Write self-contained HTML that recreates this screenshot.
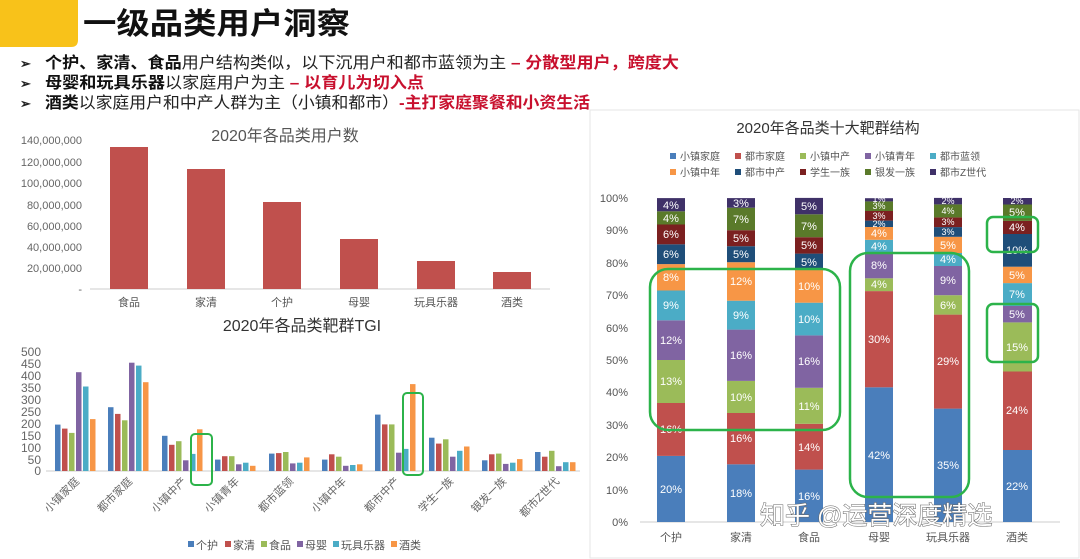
<!DOCTYPE html>
<html><head><meta charset="utf-8"><style>
html,body{margin:0;padding:0;background:#fff;}
svg{display:block;font-family:"Liberation Sans","Noto Sans CJK SC",sans-serif;}
</style></head><body>
<svg width="1080" height="559" viewBox="0 0 1080 559" xmlns="http://www.w3.org/2000/svg">
<rect x="0" y="0" width="1080" height="559" fill="#fff"/>
<!-- header -->
<path d="M0 0 H78 V40 Q78 47 71 47 H0 Z" fill="#f8c21a"/>
<text x="83" y="34" font-size="30" font-weight="bold" fill="#111" textLength="267" lengthAdjust="spacingAndGlyphs">一级品类用户洞察</text>
<g font-size="16" font-weight="bold">
<text x="20" y="68" font-size="13" fill="#222">➢</text>
<text x="45" y="68" textLength="634" lengthAdjust="spacingAndGlyphs"><tspan fill="#111">个护、家清、食品</tspan><tspan fill="#222" font-weight="normal">用户结构类似，以下沉用户和都市蓝领为主 </tspan><tspan fill="#c8102e">– 分散型用户，跨度大</tspan></text>
<text x="20" y="88" font-size="13" fill="#222">➢</text>
<text x="45" y="88" textLength="379" lengthAdjust="spacingAndGlyphs"><tspan fill="#111">母婴和玩具乐器</tspan><tspan fill="#222" font-weight="normal">以家庭用户为主 </tspan><tspan fill="#c8102e">– 以育儿为切入点</tspan></text>
<text x="20" y="108" font-size="13" fill="#222">➢</text>
<text x="45" y="108" textLength="545" lengthAdjust="spacingAndGlyphs"><tspan fill="#111">酒类</tspan><tspan fill="#222" font-weight="normal">以家庭用户和中产人群为主（小镇和都市）</tspan><tspan fill="#c8102e">-主打家庭聚餐和小资生活</tspan></text>
</g>

<!-- chart 1 -->
<text x="285" y="141" font-size="16" fill="#555" text-anchor="middle">2020年各品类用户数</text>
<g font-size="11" fill="#666" text-anchor="end">
<text x="82" y="144">140,000,000</text>
<text x="82" y="166">120,000,000</text>
<text x="82" y="187">100,000,000</text>
<text x="82" y="209">80,000,000</text>
<text x="82" y="230">60,000,000</text>
<text x="82" y="251">40,000,000</text>
<text x="82" y="272">20,000,000</text>
<text x="82" y="293">-</text>
</g>
<line x1="90" y1="289" x2="550" y2="289" stroke="#ccc" stroke-width="1"/>
<g fill="#c0504d">
<rect x="110" y="147" width="38" height="142"/>
<rect x="187" y="169" width="38" height="120"/>
<rect x="263" y="202" width="38" height="87"/>
<rect x="340" y="239" width="38" height="50"/>
<rect x="417" y="261" width="38" height="28"/>
<rect x="493" y="272" width="38" height="17"/>
</g>
<g font-size="11" fill="#555" text-anchor="middle">
<text x="129" y="306">食品</text><text x="206" y="306">家清</text><text x="282" y="306">个护</text>
<text x="359" y="306">母婴</text><text x="436" y="306">玩具乐器</text><text x="512" y="306">酒类</text>
</g>

<!-- chart 2 TGI -->
<text x="302" y="331" font-size="16" fill="#333" text-anchor="middle">2020年各品类靶群TGI</text>
<g font-size="12" fill="#666" text-anchor="end">
<text x="41" y="356">500</text><text x="41" y="368">450</text><text x="41" y="380">400</text>
<text x="41" y="392">350</text><text x="41" y="404">300</text><text x="41" y="416">250</text>
<text x="41" y="428">200</text><text x="41" y="440">150</text><text x="41" y="452">100</text>
<text x="41" y="464">50</text><text x="41" y="475">0</text>
</g>
<line x1="46" y1="471" x2="580" y2="471" stroke="#ccc"/>
<defs>
<g id="c0"></g>
</defs>
<g transform="translate(0,471) scale(1,-1)">
<!-- g0 c=76 -->
<rect x="55" width="5.5" height="46.4" fill="#4a7ebb"/><rect x="62" width="5.5" height="42.4" fill="#c0504d"/><rect x="69" width="5.5" height="38.1" fill="#9bbb59"/><rect x="76" width="5.5" height="98.8" fill="#8064a2"/><rect x="83" width="5.5" height="84.5" fill="#4bacc6"/><rect x="90" width="5.5" height="51.9" fill="#f79646"/>
<!-- g1 c=129 -->
<rect x="108" width="5.5" height="63.8" fill="#4a7ebb"/><rect x="115" width="5.5" height="57.1" fill="#c0504d"/><rect x="122" width="5.5" height="50.7" fill="#9bbb59"/><rect x="129" width="5.5" height="108.3" fill="#8064a2"/><rect x="136" width="5.5" height="105.4" fill="#4bacc6"/><rect x="143" width="5.5" height="88.8" fill="#f79646"/>
<!-- g2 c=183 -->
<rect x="162" width="5.5" height="35.2" fill="#4a7ebb"/><rect x="169" width="5.5" height="26.2" fill="#c0504d"/><rect x="176" width="5.5" height="29.8" fill="#9bbb59"/><rect x="183" width="5.5" height="10.7" fill="#8064a2"/><rect x="190" width="5.5" height="17.1" fill="#4bacc6"/><rect x="197" width="5.5" height="41.7" fill="#f79646"/>
<!-- g3 c=236 -->
<rect x="215" width="5.5" height="11.4" fill="#4a7ebb"/><rect x="222" width="5.5" height="14.8" fill="#c0504d"/><rect x="229" width="5.5" height="14.8" fill="#9bbb59"/><rect x="236" width="5.5" height="6.7" fill="#8064a2"/><rect x="243" width="5.5" height="8.3" fill="#4bacc6"/><rect x="250" width="5.5" height="5.2" fill="#f79646"/>
<!-- g4 c=290 -->
<rect x="269" width="5.5" height="17.4" fill="#4a7ebb"/><rect x="276" width="5.5" height="17.9" fill="#c0504d"/><rect x="283" width="5.5" height="19.0" fill="#9bbb59"/><rect x="290" width="5.5" height="7.6" fill="#8064a2"/><rect x="297" width="5.5" height="8.3" fill="#4bacc6"/><rect x="304" width="5.5" height="13.6" fill="#f79646"/>
<!-- g5 c=343 -->
<rect x="322" width="5.5" height="11.4" fill="#4a7ebb"/><rect x="329" width="5.5" height="16.7" fill="#c0504d"/><rect x="336" width="5.5" height="14.3" fill="#9bbb59"/><rect x="343" width="5.5" height="5.2" fill="#8064a2"/><rect x="350" width="5.5" height="6.0" fill="#4bacc6"/><rect x="357" width="5.5" height="6.7" fill="#f79646"/>
<!-- g6 c=396 -->
<rect x="375" width="5.5" height="56.4" fill="#4a7ebb"/><rect x="382" width="5.5" height="46.6" fill="#c0504d"/><rect x="389" width="5.5" height="46.6" fill="#9bbb59"/><rect x="396" width="5.5" height="18.3" fill="#8064a2"/><rect x="403" width="5.5" height="22.1" fill="#4bacc6"/><rect x="410" width="5.5" height="86.9" fill="#f79646"/>
<!-- g7 c=450 -->
<rect x="429" width="5.5" height="33.3" fill="#4a7ebb"/><rect x="436" width="5.5" height="27.4" fill="#c0504d"/><rect x="443" width="5.5" height="31.7" fill="#9bbb59"/><rect x="450" width="5.5" height="14.3" fill="#8064a2"/><rect x="457" width="5.5" height="20.2" fill="#4bacc6"/><rect x="464" width="5.5" height="24.5" fill="#f79646"/>
<!-- g8 c=503 -->
<rect x="482" width="5.5" height="10.7" fill="#4a7ebb"/><rect x="489" width="5.5" height="16.7" fill="#c0504d"/><rect x="496" width="5.5" height="17.4" fill="#9bbb59"/><rect x="503" width="5.5" height="7.1" fill="#8064a2"/><rect x="510" width="5.5" height="8.3" fill="#4bacc6"/><rect x="517" width="5.5" height="11.9" fill="#f79646"/>
<!-- g9 c=556 -->
<rect x="535" width="5.5" height="19.0" fill="#4a7ebb"/><rect x="542" width="5.5" height="14.3" fill="#c0504d"/><rect x="549" width="5.5" height="20.2" fill="#9bbb59"/><rect x="556" width="5.5" height="4.8" fill="#8064a2"/><rect x="563" width="5.5" height="8.8" fill="#4bacc6"/><rect x="570" width="5.5" height="8.8" fill="#f79646"/>
</g>
<g font-size="11" fill="#666" text-anchor="end">
<text transform="translate(80,482) rotate(-45)">小镇家庭</text>
<text transform="translate(133,482) rotate(-45)">都市家庭</text>
<text transform="translate(187,482) rotate(-45)">小镇中产</text>
<text transform="translate(240,482) rotate(-45)">小镇青年</text>
<text transform="translate(294,482) rotate(-45)">都市蓝领</text>
<text transform="translate(347,482) rotate(-45)">小镇中年</text>
<text transform="translate(400,482) rotate(-45)">都市中产</text>
<text transform="translate(454,482) rotate(-45)">学生一族</text>
<text transform="translate(507,482) rotate(-45)">银发一族</text>
<text transform="translate(560,482) rotate(-45)">都市Z世代</text>
</g>
<g fill="none" stroke="#2cb34a" stroke-width="2">
<rect x="191" y="434" width="21" height="51" rx="4"/>
<rect x="403" y="393" width="20" height="82" rx="4"/>
</g>
<g font-size="11" fill="#555">
<rect x="188" y="541" width="6" height="6" fill="#4a7ebb"/><text x="196" y="549">个护</text>
<rect x="225" y="541" width="6" height="6" fill="#c0504d"/><text x="233" y="549">家清</text>
<rect x="261" y="541" width="6" height="6" fill="#9bbb59"/><text x="269" y="549">食品</text>
<rect x="297" y="541" width="6" height="6" fill="#8064a2"/><text x="305" y="549">母婴</text>
<rect x="333" y="541" width="6" height="6" fill="#4bacc6"/><text x="341" y="549">玩具乐器</text>
<rect x="391" y="541" width="6" height="6" fill="#f79646"/><text x="399" y="549">酒类</text>
</g>

<!-- chart 3 stacked -->
<rect x="590" y="110" width="489" height="448" fill="none" stroke="#e6e6e6"/>
<text x="828" y="133" font-size="15" fill="#333" text-anchor="middle">2020年各品类十大靶群结构</text>
<g font-size="10" fill="#555">
<rect x="670" y="153" width="6" height="6" fill="#4a7ebb"/><text x="680" y="160">小镇家庭</text>
<rect x="735" y="153" width="6" height="6" fill="#c0504d"/><text x="745" y="160">都市家庭</text>
<rect x="800" y="153" width="6" height="6" fill="#9bbb59"/><text x="810" y="160">小镇中产</text>
<rect x="865" y="153" width="6" height="6" fill="#8064a2"/><text x="875" y="160">小镇青年</text>
<rect x="930" y="153" width="6" height="6" fill="#4bacc6"/><text x="940" y="160">都市蓝领</text>
<rect x="670" y="169" width="6" height="6" fill="#f79646"/><text x="680" y="176">小镇中年</text>
<rect x="735" y="169" width="6" height="6" fill="#1f4e79"/><text x="745" y="176">都市中产</text>
<rect x="800" y="169" width="6" height="6" fill="#7b2020"/><text x="810" y="176">学生一族</text>
<rect x="865" y="169" width="6" height="6" fill="#5a7a2a"/><text x="875" y="176">银发一族</text>
<rect x="930" y="169" width="6" height="6" fill="#3f3168"/><text x="940" y="176">都市Z世代</text>
</g>
<g font-size="11" fill="#555" text-anchor="end">
<text x="628" y="202">100%</text><text x="628" y="234">90%</text><text x="628" y="267">80%</text>
<text x="628" y="299">70%</text><text x="628" y="332">60%</text><text x="628" y="364">50%</text>
<text x="628" y="396">40%</text><text x="628" y="429">30%</text><text x="628" y="461">20%</text>
<text x="628" y="494">10%</text><text x="628" y="526">0%</text>
</g>
<line x1="640" y1="522" x2="1060" y2="522" stroke="#ccc"/>
<!-- bar 1 x=657 -->
<g>
<rect x="657" y="455.9" width="28" height="66.1" fill="#4a7ebb"/>
<rect x="657" y="403.0" width="28" height="52.9" fill="#c0504d"/>
<rect x="657" y="360.0" width="28" height="43.0" fill="#9bbb59"/>
<rect x="657" y="320.3" width="28" height="39.7" fill="#8064a2"/>
<rect x="657" y="290.5" width="28" height="29.8" fill="#4bacc6"/>
<rect x="657" y="264.1" width="28" height="26.4" fill="#f79646"/>
<rect x="657" y="244.3" width="28" height="19.8" fill="#1f4e79"/>
<rect x="657" y="224.5" width="28" height="19.8" fill="#7b2020"/>
<rect x="657" y="211.3" width="28" height="13.2" fill="#5a7a2a"/>
<rect x="657" y="198.1" width="28" height="13.2" fill="#3f3168"/>
</g>
<g>
<rect x="727" y="464.3" width="28" height="57.7" fill="#4a7ebb"/>
<rect x="727" y="413.0" width="28" height="51.3" fill="#c0504d"/>
<rect x="727" y="380.9" width="28" height="32.1" fill="#9bbb59"/>
<rect x="727" y="329.6" width="28" height="51.3" fill="#8064a2"/>
<rect x="727" y="300.7" width="28" height="28.9" fill="#4bacc6"/>
<rect x="727" y="262.2" width="28" height="38.5" fill="#f79646"/>
<rect x="727" y="246.2" width="28" height="16.0" fill="#1f4e79"/>
<rect x="727" y="230.2" width="28" height="16.0" fill="#7b2020"/>
<rect x="727" y="207.7" width="28" height="22.5" fill="#5a7a2a"/>
<rect x="727" y="198.1" width="28" height="9.6" fill="#3f3168"/>
</g>
<g>
<rect x="795" y="469.6" width="28" height="52.4" fill="#4a7ebb"/>
<rect x="795" y="423.8" width="28" height="45.8" fill="#c0504d"/>
<rect x="795" y="387.8" width="28" height="36.0" fill="#9bbb59"/>
<rect x="795" y="335.4" width="28" height="52.4" fill="#8064a2"/>
<rect x="795" y="302.7" width="28" height="32.7" fill="#4bacc6"/>
<rect x="795" y="270.0" width="28" height="32.7" fill="#f79646"/>
<rect x="795" y="253.6" width="28" height="16.4" fill="#1f4e79"/>
<rect x="795" y="237.2" width="28" height="16.4" fill="#7b2020"/>
<rect x="795" y="214.3" width="28" height="22.9" fill="#5a7a2a"/>
<rect x="795" y="197.9" width="28" height="16.4" fill="#3f3168"/>
</g>
<g>
<rect x="865" y="387.3" width="28" height="134.7" fill="#4a7ebb"/>
<rect x="865" y="291.1" width="28" height="96.2" fill="#c0504d"/>
<rect x="865" y="278.3" width="28" height="12.8" fill="#9bbb59"/>
<rect x="865" y="252.6" width="28" height="25.7" fill="#8064a2"/>
<rect x="865" y="239.8" width="28" height="12.8" fill="#4bacc6"/>
<rect x="865" y="227.0" width="28" height="12.8" fill="#f79646"/>
<rect x="865" y="220.6" width="28" height="6.4" fill="#1f4e79"/>
<rect x="865" y="211.0" width="28" height="9.6" fill="#7b2020"/>
<rect x="865" y="201.4" width="28" height="9.6" fill="#5a7a2a"/>
<rect x="865" y="198.2" width="28" height="3.2" fill="#3f3168"/>
</g>
<g>
<rect x="934" y="408.6" width="28" height="113.4" fill="#4a7ebb"/>
<rect x="934" y="314.6" width="28" height="94.0" fill="#c0504d"/>
<rect x="934" y="295.2" width="28" height="19.4" fill="#9bbb59"/>
<rect x="934" y="266.0" width="28" height="29.2" fill="#8064a2"/>
<rect x="934" y="253.0" width="28" height="13.0" fill="#4bacc6"/>
<rect x="934" y="236.8" width="28" height="16.2" fill="#f79646"/>
<rect x="934" y="227.1" width="28" height="9.7" fill="#1f4e79"/>
<rect x="934" y="217.4" width="28" height="9.7" fill="#7b2020"/>
<rect x="934" y="204.4" width="28" height="13.0" fill="#5a7a2a"/>
<rect x="934" y="197.9" width="28" height="6.5" fill="#3f3168"/>
</g>
<g>
<rect x="1003" y="450.0" width="29" height="72.0" fill="#4a7ebb"/>
<rect x="1003" y="371.5" width="29" height="78.5" fill="#c0504d"/>
<rect x="1003" y="322.4" width="29" height="49.1" fill="#9bbb59"/>
<rect x="1003" y="306.0" width="29" height="16.4" fill="#8064a2"/>
<rect x="1003" y="283.1" width="29" height="22.9" fill="#4bacc6"/>
<rect x="1003" y="266.7" width="29" height="16.4" fill="#f79646"/>
<rect x="1003" y="234.0" width="29" height="32.7" fill="#1f4e79"/>
<rect x="1003" y="220.9" width="29" height="13.1" fill="#7b2020"/>
<rect x="1003" y="204.5" width="29" height="16.4" fill="#5a7a2a"/>
<rect x="1003" y="198.0" width="29" height="6.5" fill="#3f3168"/>
</g>
<g font-size="11" fill="#fff" text-anchor="middle">
<text x="671" y="493">20%</text><text x="671" y="433">16%</text><text x="671" y="385">13%</text><text x="671" y="344">12%</text><text x="671" y="309">9%</text><text x="671" y="281">8%</text><text x="671" y="258">6%</text><text x="671" y="238">6%</text><text x="671" y="222">4%</text><text x="671" y="209">4%</text>
<text x="741" y="497">18%</text><text x="741" y="442">16%</text><text x="741" y="401">10%</text><text x="741" y="359">16%</text><text x="741" y="319">9%</text><text x="741" y="285">12%</text><text x="741" y="258">5%</text><text x="741" y="242">5%</text><text x="741" y="223">7%</text><text x="741" y="207">3%</text>
<text x="809" y="500">16%</text><text x="809" y="451">14%</text><text x="809" y="410">11%</text><text x="809" y="365">16%</text><text x="809" y="323">10%</text><text x="809" y="290">10%</text><text x="809" y="266">5%</text><text x="809" y="249">5%</text><text x="809" y="230">7%</text><text x="809" y="210">5%</text>
<text x="879" y="459">42%</text><text x="879" y="343">30%</text><text x="879" y="288">4%</text><text x="879" y="269">8%</text><text x="879" y="250">4%</text><text x="879" y="237">4%</text>
<text x="948" y="469">35%</text><text x="948" y="365">29%</text><text x="948" y="309">6%</text><text x="948" y="284">9%</text><text x="948" y="263">4%</text><text x="948" y="249">5%</text>
<text x="1017" y="490">22%</text><text x="1017" y="414">24%</text><text x="1017" y="351">15%</text><text x="1017" y="318">5%</text><text x="1017" y="298">7%</text><text x="1017" y="279">5%</text><text x="1017" y="254">10%</text><text x="1017" y="231">4%</text><text x="1017" y="216">5%</text>
</g>
<g font-size="9" fill="#fff" text-anchor="middle">
<text x="879" y="227">2%</text><text x="879" y="219">3%</text><text x="879" y="209">3%</text><text x="879" y="202">1%</text>
<text x="948" y="235">3%</text><text x="948" y="225">3%</text><text x="948" y="214">4%</text><text x="948" y="204">2%</text>
<text x="1017" y="204">2%</text>
</g>
<g font-size="11" fill="#555" text-anchor="middle">
<text x="671" y="541">个护</text><text x="741" y="541">家清</text><text x="809" y="541">食品</text>
<text x="879" y="541">母婴</text><text x="948" y="541">玩具乐器</text><text x="1017" y="541">酒类</text>
</g>
<g fill="none" stroke="#2cb34a" stroke-width="2.5">
<rect x="650" y="269" width="190" height="161" rx="18"/>
<rect x="850" y="253" width="119" height="244" rx="18"/>
<rect x="987" y="217" width="51" height="35" rx="6"/>
<rect x="987" y="304" width="51" height="58" rx="6"/>
</g>
<text x="760" y="524" font-size="25" fill="#fff" stroke="#666" stroke-width="1" paint-order="stroke">知乎 @运营深度精选</text>
</svg>
</body></html>
